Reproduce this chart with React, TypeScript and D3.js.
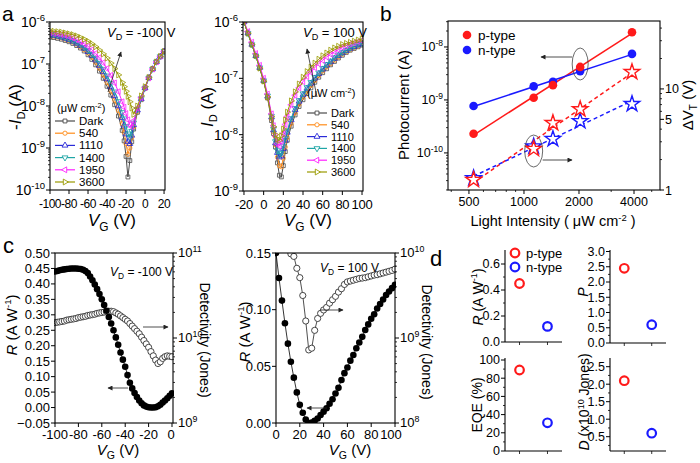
import React from "react";
import * as d3 from "d3";

const FONT = "'Liberation Sans', Arial, Helvetica, sans-serif";

// ---------------- Panel a : transfer curves ----------------
const LEGEND_A = ["Dark", "540", "1110", "1400", "1950", "3600"];
const COLORS_A = ["#4a4a4a", "#ff8c1a", "#2a2ad8", "#1fa6a6", "#ff22ff", "#9a9a00"];
const ROT_A = [0, 0, 0, 180, -90, 90];

// p-type, V_D = -100 V : log10(-I_D)
const VG_P = [-100, -96, -92, -88, -84, -80, -76, -72, -68, -64, -60, -56, -52, -48, -44, -40, -36, -32, -28, -24, -22, -20, -18, -16, -14, -12, -8, -4, 0, 4, 8, 12, 16, 20];
const P_DARK = [-6.36, -6.37, -6.39, -6.41, -6.44, -6.47, -6.51, -6.56, -6.62, -6.69, -6.78, -6.89, -7.02, -7.17, -7.34, -7.53, -7.74, -7.97, -8.24, -8.58, -8.83, -9.2, -9.69, -9.3, -8.85, -8.55, -8.15, -7.85, -7.58, -7.33, -7.12, -6.95, -6.82, -6.7];
const P_540 = [-6.33, -6.34, -6.36, -6.38, -6.41, -6.44, -6.48, -6.53, -6.59, -6.66, -6.74, -6.84, -6.96, -7.1, -7.26, -7.44, -7.64, -7.86, -8.11, -8.42, -8.63, -8.9, -9.15, -9.0, -8.75, -8.5, -8.13, -7.84, -7.58, -7.33, -7.12, -6.95, -6.82, -6.7];
const P_1110 = [-6.31, -6.32, -6.34, -6.36, -6.39, -6.42, -6.46, -6.51, -6.56, -6.63, -6.71, -6.8, -6.91, -7.04, -7.19, -7.36, -7.55, -7.76, -8.0, -8.28, -8.46, -8.67, -8.85, -8.9, -8.7, -8.45, -8.1, -7.83, -7.57, -7.33, -7.12, -6.95, -6.82, -6.7];
const P_1400 = [-6.29, -6.3, -6.32, -6.34, -6.37, -6.4, -6.44, -6.48, -6.53, -6.6, -6.67, -6.76, -6.86, -6.98, -7.12, -7.28, -7.46, -7.66, -7.89, -8.15, -8.3, -8.48, -8.66, -8.74, -8.6, -8.4, -8.08, -7.82, -7.57, -7.33, -7.12, -6.95, -6.82, -6.7];
const P_1950 = [-6.26, -6.27, -6.28, -6.3, -6.32, -6.35, -6.38, -6.42, -6.47, -6.52, -6.58, -6.66, -6.75, -6.85, -6.97, -7.11, -7.27, -7.45, -7.66, -7.9, -8.03, -8.18, -8.33, -8.45, -8.5, -8.35, -8.05, -7.8, -7.56, -7.33, -7.12, -6.95, -6.82, -6.7];
const P_3600 = [-6.21, -6.22, -6.23, -6.24, -6.26, -6.28, -6.3, -6.33, -6.37, -6.41, -6.46, -6.52, -6.59, -6.67, -6.76, -6.86, -6.98, -7.11, -7.26, -7.44, -7.54, -7.65, -7.77, -7.9, -8.05, -8.2, -8.0, -7.76, -7.54, -7.32, -7.12, -6.95, -6.82, -6.7];

// n-type, V_D = 100 V : log10(I_D)
const VG_N = [-20, -16, -12, -8, -4, 0, 4, 8, 10, 12, 14, 16, 18, 20, 22, 24, 28, 32, 36, 40, 44, 48, 52, 56, 60, 64, 68, 72, 76, 80, 84, 88, 92, 96, 100];
const N_DARK = [-6.0, -6.2, -6.4, -6.6, -6.82, -7.05, -7.35, -7.75, -7.98, -8.22, -8.5, -8.72, -8.75, -8.55, -8.3, -8.1, -7.85, -7.65, -7.5, -7.38, -7.27, -7.17, -7.07, -6.98, -6.9, -6.83, -6.76, -6.7, -6.64, -6.59, -6.54, -6.5, -6.47, -6.44, -6.41];
const N_540 = [-6.0, -6.2, -6.4, -6.6, -6.82, -7.05, -7.34, -7.72, -7.95, -8.18, -8.4, -8.55, -8.57, -8.42, -8.22, -8.05, -7.8, -7.61, -7.46, -7.34, -7.23, -7.13, -7.04, -6.95, -6.87, -6.8, -6.74, -6.68, -6.62, -6.57, -6.53, -6.49, -6.46, -6.43, -6.4];
const N_1110 = [-6.0, -6.2, -6.4, -6.6, -6.81, -7.04, -7.32, -7.69, -7.92, -8.15, -8.32, -8.4, -8.38, -8.25, -8.1, -7.96, -7.74, -7.56, -7.41, -7.29, -7.18, -7.09, -7.0, -6.92, -6.84, -6.77, -6.71, -6.65, -6.6, -6.55, -6.51, -6.47, -6.44, -6.41, -6.39];
const N_1400 = [-6.0, -6.2, -6.4, -6.6, -6.81, -7.04, -7.31, -7.67, -7.9, -8.12, -8.28, -8.36, -8.33, -8.2, -8.06, -7.93, -7.71, -7.53, -7.39, -7.27, -7.16, -7.07, -6.98, -6.9, -6.82, -6.75, -6.69, -6.63, -6.58, -6.54, -6.5, -6.46, -6.43, -6.4, -6.38];
const N_1950 = [-5.98, -6.17, -6.36, -6.56, -6.77, -7.0, -7.28, -7.63, -7.84, -8.03, -8.16, -8.2, -8.12, -7.98, -7.82, -7.68, -7.47, -7.3, -7.17, -7.06, -6.97, -6.89, -6.81, -6.74, -6.68, -6.62, -6.57, -6.53, -6.49, -6.45, -6.42, -6.39, -6.37, -6.35, -6.33];
const N_3600 = [-6.0, -6.2, -6.4, -6.6, -6.82, -7.05, -7.33, -7.68, -7.86, -8.0, -8.08, -8.1, -8.02, -7.9, -7.74, -7.6, -7.4, -7.24, -7.1, -6.98, -6.88, -6.8, -6.73, -6.66, -6.6, -6.55, -6.5, -6.46, -6.43, -6.4, -6.38, -6.36, -6.34, -6.32, -6.3];

const A_XTICKS_P = [-100, -80, -60, -40, -20, 0, 20];
const A_XTICKS_N = [-20, 0, 20, 40, 60, 80, 100];

// ---------------- Panel b ----------------
const INTENSITY = [530, 1130, 1440, 2030, 3900];
const PHOTO_P = [2.3e-10, 1.1e-9, 1.9e-9, 4.2e-9, 1.9e-8];
const PHOTO_N = [7.7e-10, 1.8e-9, 2.2e-9, 3.5e-9, 7.4e-9];
const DVT_P = [1.26, 2.55, 4.6, 6.3, 14.7];
const DVT_N = [1.31, 2.7, 3.2, 4.8, 7.1];
const B_XTICKS = [500, 1000, 2000, 4000];
const B_XMINOR = [400, 600, 700, 800, 900, 3000, 5000];
const B_RTICKS = [1, 5, 10];

// ---------------- Panel c ----------------
const VG_C1 = [-100, -98, -96, -94, -92, -90, -88, -86, -84, -82, -80, -78, -76, -74, -72, -70, -68, -66, -64, -62, -60, -58, -56, -54, -52, -50, -48, -46, -44, -42, -40, -38, -36, -34, -32, -30, -28, -26, -24, -22, -20, -18, -16, -14, -12, -10, -8, -6, -4, -2, 0];
const R_C1 = [0.44, 0.442, 0.444, 0.446, 0.447, 0.448, 0.449, 0.45, 0.45, 0.45, 0.449, 0.448, 0.446, 0.442, 0.435, 0.424, 0.412, 0.398, 0.383, 0.367, 0.35, 0.332, 0.313, 0.293, 0.272, 0.25, 0.227, 0.203, 0.178, 0.155, 0.132, 0.105, 0.08, 0.062, 0.047, 0.034, 0.023, 0.014, 0.007, 0.003, 0.001, 0.0, 0.0, 0.001, 0.004, 0.009, 0.016, 0.023, 0.03, 0.038, 0.046];
const LOGD_C1 = [10.18, 10.185, 10.19, 10.195, 10.2, 10.21, 10.215, 10.22, 10.225, 10.23, 10.24, 10.245, 10.25, 10.255, 10.265, 10.27, 10.275, 10.28, 10.29, 10.295, 10.3, 10.305, 10.31, 10.315, 10.315, 10.31, 10.295, 10.28, 10.26, 10.24, 10.22, 10.2, 10.17, 10.14, 10.11, 10.08, 10.05, 10.01, 9.97, 9.93, 9.89, 9.84, 9.79, 9.74, 9.7, 9.72, 9.76, 9.78, 9.79, 9.785, 9.78];

const VG_C2 = [0, 2.5, 5, 7.5, 10, 12.5, 15, 17.5, 20, 22.5, 25, 27.5, 30, 32.5, 35, 37.5, 40, 42.5, 45, 47.5, 50, 52.5, 55, 57.5, 60, 62.5, 65, 67.5, 70, 72.5, 75, 77.5, 80, 82.5, 85, 87.5, 90, 92.5, 95, 97.5, 100];
const R_C2 = [0.15, 0.128, 0.108, 0.088, 0.07, 0.054, 0.04, 0.027, 0.016, 0.009, 0.003, 0.0, 0.0005, 0.002, 0.004, 0.007, 0.01, 0.013, 0.017, 0.021, 0.026, 0.031, 0.038, 0.044, 0.049, 0.055, 0.06, 0.066, 0.071, 0.076, 0.082, 0.087, 0.092, 0.096, 0.101, 0.105, 0.109, 0.113, 0.116, 0.119, 0.122];
const VG_C2D = [12.5, 15, 17.5, 20, 22.5, 25, 27.5, 30, 32.5, 35, 37.5, 40, 42.5, 45, 47.5, 50, 52.5, 55, 57.5, 60, 62.5, 65, 67.5, 70, 72.5, 75, 77.5, 80, 82.5, 85, 87.5, 90, 92.5, 95, 97.5, 100];
const LOGD_C2 = [9.99, 9.96, 9.82, 9.71, 9.5, 9.2, 8.86, 8.88, 9.09, 9.23, 9.29, 9.33, 9.36, 9.41, 9.45, 9.49, 9.54, 9.58, 9.63, 9.66, 9.67, 9.68, 9.69, 9.7, 9.705, 9.71, 9.72, 9.73, 9.74, 9.745, 9.755, 9.765, 9.775, 9.785, 9.795, 9.81];

// ---------------- Panel d ----------------
const TYPES = ["p-type", "n-type"];
const TYPE_COLORS = ["#ff1a1a", "#1a1aff"];
const D_R = [0.45, 0.12];
const D_P = [2.45, 0.6];
const D_EQE = [89, 31];
const D_DET = [2.1, 0.6];

// ---------------- helpers ----------------
function logMinors(lo: number, hi: number) {
  const out: number[] = [];
  const e0 = Math.floor(Math.log10(lo));
  const e1 = Math.ceil(Math.log10(hi));
  for (let e = e0; e <= e1; e++)
    for (let m = 2; m <= 9; m++) {
      const v = m * Math.pow(10, e);
      if (v > lo * 1.0001 && v < hi * 0.9999) out.push(v);
    }
  return out;
}

function Pow10({ x, y, e, anchor = "end", fs = 14 }: any) {
  return (
    <text x={x} y={y} textAnchor={anchor} fontSize={fs}>
      10
      <tspan dy={-fs * 0.42} fontSize={fs * 0.68}>
        {e}
      </tspan>
    </text>
  );
}

function VD({ x, y, val, fs = 13 }: any) {
  return (
    <text x={x} y={y} fontSize={fs}>
      <tspan fontStyle="italic">V</tspan>
      <tspan fontSize={fs * 0.7} dy={fs * 0.25}>D</tspan>
      <tspan dy={-fs * 0.25}>{` = ${val} V`}</tspan>
    </text>
  );
}

function VGTitle({ x, y, fs = 15 }: any) {
  return (
    <text x={x} y={y} fontSize={fs} textAnchor="middle">
      <tspan fontStyle="italic">V</tspan>
      <tspan fontSize={fs * 0.7} dy={fs * 0.28}>G</tspan>
      <tspan dy={-fs * 0.28}> (V)</tspan>
    </text>
  );
}

function RotText({ x, y, rot = -90, fs = 15, children }: any) {
  return (
    <text transform={`translate(${x},${y}) rotate(${rot})`} textAnchor="middle" dy="0.35em" fontSize={fs}>
      {children}
    </text>
  );
}

function RLabel({ fs }: any) {
  return (
    <>
      <tspan fontStyle="italic">R</tspan>
      <tspan> (A W</tspan>
      <tspan fontSize={fs * 0.65} dy={-fs * 0.4}>-1</tspan>
      <tspan dy={fs * 0.4}>)</tspan>
    </>
  );
}

const symGen = (k: number) => {
  const types = [d3.symbolSquare, d3.symbolCircle, d3.symbolTriangle, d3.symbolTriangle, d3.symbolTriangle, d3.symbolTriangle];
  const sizes = [15, 14, 15, 15, 15, 15];
  return d3.symbol().type(types[k]).size(sizes[k])() as string;
};

// ---------------- Panel a component ----------------
function TransferPanel({ cid, vg, series, box, xDom, yExp, xTicks, xTickFs, xTickLs, legend, arrow }: any) {
  const x = d3.scaleLinear().domain(xDom).range([box.x0, box.x1]);
  const y = d3.scaleLog().domain([Math.pow(10, yExp[0]), Math.pow(10, yExp[1])]).range([box.y1, box.y0]);
  const line = d3
    .line<[number, number]>()
    .x((d) => x(d[0]))
    .y((d) => y(Math.pow(10, d[1])));
  const exps = d3.range(yExp[0], yExp[1] + 1);
  const minors = logMinors(Math.pow(10, yExp[0]), Math.pow(10, yExp[1]));
  return (
    <g>
      <clipPath id={cid}>
        <rect x={box.x0} y={box.y0} width={box.x1 - box.x0} height={box.y1 - box.y0} />
      </clipPath>
      <g clipPath={`url(#${cid})`}>
        {series.map((s: number[], k: number) => {
          const pts: [number, number][] = vg.map((v: number, i: number) => [v, s[i]]);
          const sp = symGen(k);
          return (
            <g key={k}>
              <path d={line(pts) as string} fill="none" stroke={COLORS_A[k]} strokeWidth={1} />
              {pts.map((p, i) => (
                <path
                  key={i}
                  d={sp}
                  transform={`translate(${x(p[0])},${y(Math.pow(10, p[1]))}) rotate(${ROT_A[k]})`}
                  fill="none"
                  stroke={COLORS_A[k]}
                  strokeWidth={0.8}
                />
              ))}
            </g>
          );
        })}
      </g>
      <rect x={box.x0} y={box.y0} width={box.x1 - box.x0} height={box.y1 - box.y0} fill="none" stroke="#000" strokeWidth={1.1} />
      {exps.map((e: number) => (
        <g key={e}>
          <line x1={box.x0 - 4} x2={box.x0} y1={y(Math.pow(10, e))} y2={y(Math.pow(10, e))} stroke="#000" />
          <Pow10 x={box.x0 - 5} y={y(Math.pow(10, e)) + 5} e={e} fs={14} />
        </g>
      ))}
      {minors.map((v: number, i: number) => (
        <line key={i} x1={box.x0 - 2} x2={box.x0} y1={y(v)} y2={y(v)} stroke="#000" strokeWidth={0.8} />
      ))}
      {xTicks.map((t: number) => (
        <g key={t}>
          <line x1={x(t)} x2={x(t)} y1={box.y1} y2={box.y1 + 4} stroke="#000" />
          <text x={x(t)} y={box.y1 + 18} textAnchor="middle" fontSize={xTickFs} letterSpacing={xTickLs}>
            {t}
          </text>
        </g>
      ))}
      {/* legend */}
      <text x={legend.hx} y={legend.hy} fontSize={11}>
        (μW cm<tspan fontSize={7.5} dy={-4}>-2</tspan>
        <tspan dy={4}>)</tspan>
      </text>
      {LEGEND_A.map((lab, k) => {
        const ly = legend.y0 + k * legend.dy;
        return (
          <g key={lab}>
            <line x1={legend.x} x2={legend.x + 20} y1={ly} y2={ly} stroke={COLORS_A[k]} strokeWidth={1.2} />
            <path d={symGen(k)} transform={`translate(${legend.x + 10},${ly}) rotate(${ROT_A[k]})`} fill="#fff" stroke={COLORS_A[k]} strokeWidth={0.9} />
            <text x={legend.x + 24} y={ly + 4} fontSize={legend.fs}>
              {lab}
            </text>
          </g>
        );
      })}
      <line x1={arrow[0]} y1={arrow[1]} x2={arrow[2]} y2={arrow[3]} stroke="#222" strokeWidth={0.8} markerEnd="url(#ah)" />
    </g>
  );
}

// ---------------- Panel b ----------------
function fitLog(xs: number[], ys: number[]) {
  const lx = xs.map((v) => Math.log10(v));
  const ly = ys.map((v) => Math.log10(v));
  const mx = d3.mean(lx) as number;
  const my = d3.mean(ly) as number;
  const b = (d3.sum(lx.map((v, i) => (v - mx) * (ly[i] - my))) as number) / (d3.sum(lx.map((v) => (v - mx) * (v - mx))) as number);
  const a = my - b * mx;
  return (v: number) => Math.pow(10, a + b * Math.log10(v));
}

function PanelB() {
  const box = { x0: 448, x1: 660, y0: 21, y1: 190 };
  const x = d3.scaleLog().domain([384, 5550]).range([box.x0, box.x1]);
  const yL = d3.scaleLog().domain([Math.pow(10, -10.7), Math.pow(10, -7.51)]).range([box.y1, box.y0]);
  const yR = d3.scaleLog().domain([1, 47]).range([box.y1, box.y0]);
  const ends = [INTENSITY[0], INTENSITY[INTENSITY.length - 1]];
  const fP = fitLog(INTENSITY, PHOTO_P);
  const fN = fitLog(INTENSITY, PHOTO_N);
  const gP = fitLog(INTENSITY, DVT_P);
  const gN = fitLog(INTENSITY, DVT_N);
  const lineL = d3.line<number>().x((v) => x(v));
  const star = d3.symbol().type(d3.symbolStar).size(75)() as string;
  const dot = (cx: number, cy: number, c: string, key: any) => <circle key={key} cx={cx} cy={cy} r={4.3} fill={c} />;
  const yMinL = logMinors(Math.pow(10, -10.7), Math.pow(10, -7.51));
  const yMinR = logMinors(1, 47).filter((v) => v !== 5);
  return (
    <g>
      <text x={380} y={21} fontSize={21}>b</text>
      <rect x={box.x0} y={box.y0} width={box.x1 - box.x0} height={box.y1 - box.y0} fill="none" stroke="#000" strokeWidth={1.1} />
      {/* fit lines */}
      <path d={lineL.y((v) => yL(fP(v)))(ends) as string} stroke="#ff1a1a" strokeWidth={1.5} fill="none" />
      <path d={lineL.y((v) => yL(fN(v)))(ends) as string} stroke="#1a1aff" strokeWidth={1.5} fill="none" />
      <path d={lineL.y((v) => yR(gP(v)))(ends) as string} stroke="#ff1a1a" strokeWidth={1.5} strokeDasharray="4,3" fill="none" />
      <path d={lineL.y((v) => yR(gN(v)))(ends) as string} stroke="#1a1aff" strokeWidth={1.5} strokeDasharray="4,3" fill="none" />
      {INTENSITY.map((v, i) => (
        <path key={"sn" + i} d={star} transform={`translate(${x(v)},${yR(DVT_N[i])})`} fill="#fff" stroke="#1a1aff" strokeWidth={1.4} />
      ))}
      {INTENSITY.map((v, i) => (
        <path key={"sp" + i} d={star} transform={`translate(${x(v)},${yR(DVT_P[i])})`} fill="#fff" stroke="#ff1a1a" strokeWidth={1.4} />
      ))}
      {INTENSITY.map((v, i) => dot(x(v), yL(PHOTO_N[i]), "#1a1aff", "dn" + i))}
      {INTENSITY.map((v, i) => dot(x(v), yL(PHOTO_P[i]), "#ff1a1a", "dp" + i))}
      {/* ellipses + arrows */}
      <ellipse cx={x(INTENSITY[3])} cy={64} rx={8} ry={16} fill="none" stroke="#444" strokeWidth={0.8} />
      <line x1={x(INTENSITY[3]) - 8} y1={57} x2={541} y2={57} stroke="#222" strokeWidth={0.8} markerEnd="url(#ah)" />
      <ellipse cx={x(INTENSITY[1])} cy={151} rx={9} ry={16} fill="none" stroke="#444" strokeWidth={0.8} />
      <line x1={x(INTENSITY[1]) + 9} y1={160} x2={572} y2={160} stroke="#222" strokeWidth={0.8} markerEnd="url(#ah)" />
      {/* legend */}
      <circle cx={467} cy={35} r={4.3} fill="#ff1a1a" />
      <text x={478} y={39.5} fontSize={13.5}>p-type</text>
      <circle cx={467} cy={50} r={4.3} fill="#1a1aff" />
      <text x={478} y={54.5} fontSize={13.5}>n-type</text>
      {/* left axis */}
      {[-10, -9, -8].map((e) => (
        <g key={e}>
          <line x1={box.x0 - 4} x2={box.x0} y1={yL(Math.pow(10, e))} y2={yL(Math.pow(10, e))} stroke="#000" />
          <Pow10 x={box.x0 - 5} y={yL(Math.pow(10, e)) + 4.5} e={e} fs={12.5} />
        </g>
      ))}
      {yMinL.map((v, i) => (
        <line key={i} x1={box.x0 - 2} x2={box.x0} y1={yL(v)} y2={yL(v)} stroke="#000" strokeWidth={0.8} />
      ))}
      {/* right axis */}
      {B_RTICKS.map((t) => (
        <g key={t}>
          <line x1={box.x1} x2={box.x1 + 4} y1={yR(t)} y2={yR(t)} stroke="#000" />
          <text x={box.x1 + 5} y={yR(t) + 4.5} fontSize={12.5}>{t}</text>
        </g>
      ))}
      {yMinR.map((v, i) => (
        <line key={i} x1={box.x1} x2={box.x1 + 2} y1={yR(v)} y2={yR(v)} stroke="#000" strokeWidth={0.8} />
      ))}
      {/* bottom axis */}
      {B_XTICKS.map((t) => (
        <g key={t}>
          <line x1={x(t)} x2={x(t)} y1={box.y1} y2={box.y1 + 4} stroke="#000" />
          <text x={x(t)} y={box.y1 + 16} textAnchor="middle" fontSize={12.5}>{t}</text>
        </g>
      ))}
      {B_XMINOR.map((t) => (
        <line key={t} x1={x(t)} x2={x(t)} y1={box.y1} y2={box.y1 + 2} stroke="#000" strokeWidth={0.8} />
      ))}
      <text x={553} y={226} textAnchor="middle" fontSize={14.5}>
        Light Intensity ( μW cm<tspan fontSize={9.5} dy={-5}>-2</tspan>
        <tspan dy={5}> )</tspan>
      </text>
      <RotText x={404} y={105} fs={15}>Photocurrent (A)</RotText>
      <RotText x={688} y={105} fs={15}>
        ΔV<tspan fontSize={10} dy={4}>T</tspan>
        <tspan dy={-4}> (V)</tspan>
      </RotText>
    </g>
  );
}

// ---------------- Panel c ----------------
function RespPanel({ cid, box, xDom, yDom, yTicks, dExp, vgR, rVals, vgD, dVals, xTicks, lastShift, vdVal, vd, arrowR, arrowL, titleX }: any) {
  const x = d3.scaleLinear().domain(xDom).range([box.x0, box.x1]);
  const yL = d3.scaleLinear().domain(yDom).range([box.y1, box.y0]);
  const yR = d3.scaleLog().domain([Math.pow(10, dExp[0]), Math.pow(10, dExp[1])]).range([box.y1, box.y0]);
  const rPts = vgR.map((v: number, i: number) => [x(v), yL(rVals[i])]);
  const dPts = vgD.map((v: number, i: number) => [x(v), yR(Math.pow(10, dVals[i]))]);
  const ln = d3.line();
  const fmt = d3.format(".2f");
  const rMinor = logMinors(Math.pow(10, dExp[0]), Math.pow(10, dExp[1]));
  return (
    <g>
      <clipPath id={cid}>
        <rect x={box.x0 - 1} y={box.y0} width={box.x1 - box.x0 + 2} height={box.y1 - box.y0} />
      </clipPath>
      <g clipPath={`url(#${cid})`}>
        <path d={ln(rPts) as string} fill="none" stroke="#000" strokeWidth={0.8} />
        <path d={ln(dPts) as string} fill="none" stroke="#222" strokeWidth={0.8} />
        {dPts.map((p: number[], i: number) => (
          <circle key={"d" + i} cx={p[0]} cy={p[1]} r={3.1} fill="#fff" stroke="#333" strokeWidth={0.9} />
        ))}
        {rPts.map((p: number[], i: number) => (
          <circle key={"r" + i} cx={p[0]} cy={p[1]} r={3.3} fill="#000" />
        ))}
      </g>
      <rect x={box.x0} y={box.y0} width={box.x1 - box.x0} height={box.y1 - box.y0} fill="none" stroke="#000" strokeWidth={1.1} />
      {yTicks.map((t: number) => (
        <g key={t}>
          <line x1={box.x0 - 4} x2={box.x0} y1={yL(t)} y2={yL(t)} stroke="#000" />
          <text x={box.x0 - 5} y={yL(t) + 4.5} textAnchor="end" fontSize={13}>{fmt(t)}</text>
        </g>
      ))}
      {d3.range(dExp[0], dExp[1] + 1).map((e: number) => (
        <g key={e}>
          <line x1={box.x1} x2={box.x1 + 4} y1={yR(Math.pow(10, e))} y2={yR(Math.pow(10, e))} stroke="#000" />
          <Pow10 x={box.x1 + 5} y={yR(Math.pow(10, e)) + 4} e={e} fs={13} anchor="start" />
        </g>
      ))}
      {rMinor.map((v: number, i: number) => (
        <line key={i} x1={box.x1} x2={box.x1 + 2} y1={yR(v)} y2={yR(v)} stroke="#000" strokeWidth={0.8} />
      ))}
      {xTicks.map((t: number, i: number) => (
        <g key={t}>
          <line x1={x(t)} x2={x(t)} y1={box.y1} y2={box.y1 + 4} stroke="#000" />
          <text x={x(t) - (i === xTicks.length - 1 ? lastShift : 0)} y={box.y1 + 16} textAnchor="middle" fontSize={13}>{t}</text>
        </g>
      ))}
      <VD x={vd[0]} y={vd[1]} val={vdVal} fs={12} />
      <line x1={arrowR[0]} y1={arrowR[1]} x2={arrowR[2]} y2={arrowR[1]} stroke="#222" strokeWidth={0.8} markerEnd="url(#ah)" />
      <line x1={arrowL[0]} y1={arrowL[1]} x2={arrowL[2]} y2={arrowL[1]} stroke="#222" strokeWidth={0.8} markerEnd="url(#ah)" />
      <VGTitle x={titleX} y={455} fs={15} />
    </g>
  );
}

// ---------------- Panel d ----------------
function DotPlot({ ax, xEnd, yB, yTop, dom, rng, ticks, minors, fmt, vals }: any) {
  const y = d3.scaleLinear().domain(dom).range(rng);
  const xc = d3.scalePoint().domain(TYPES).range([ax, xEnd]).padding(0.52);
  return (
    <g>
      <line x1={ax} x2={ax} y1={yTop} y2={yB} stroke="#000" strokeWidth={1.1} />
      <line x1={ax} x2={xEnd} y1={yB} y2={yB} stroke="#000" strokeWidth={1.1} />
      {ticks.map((t: number) => (
        <g key={t}>
          <line x1={ax - 4} x2={ax} y1={y(t)} y2={y(t)} stroke="#000" />
          <text x={ax - 5} y={y(t) + 4.3} textAnchor="end" fontSize={12.5}>{fmt(t)}</text>
        </g>
      ))}
      {minors.map((t: number) => (
        <line key={t} x1={ax - 2} x2={ax} y1={y(t)} y2={y(t)} stroke="#000" strokeWidth={0.8} />
      ))}
      {TYPES.map((c) => (
        <line key={c} x1={xc(c)} x2={xc(c)} y1={yB} y2={yB + 3} stroke="#000" strokeWidth={0.8} />
      ))}
      {TYPES.map((c, i) => (
        <circle key={"c" + c} cx={xc(c)} cy={y(vals[i])} r={4.3} fill="none" stroke={TYPE_COLORS[i]} strokeWidth={2.2} />
      ))}
    </g>
  );
}

function PanelD() {
  const f1 = d3.format(".1f");
  const f0 = d3.format("d");
  return (
    <g>
      <text x={430} y={266} fontSize={22}>d</text>
      <DotPlot ax={505} xEnd={562} yB={342} yTop={250} dom={[0, 0.7]} rng={[342, 251]} ticks={[0, 0.2, 0.4, 0.6]} minors={[0.1, 0.3, 0.5]} fmt={f1} vals={D_R} />
      <DotPlot ax={610} xEnd={666} yB={343} yTop={250} dom={[0, 3]} rng={[343, 251.5]} ticks={[0, 0.5, 1, 1.5, 2, 2.5, 3]} minors={[0.25, 0.75, 1.25, 1.75, 2.25, 2.75]} fmt={f1} vals={D_P} />
      <DotPlot ax={505} xEnd={562} yB={451} yTop={358} dom={[0, 100]} rng={[451, 360]} ticks={[0, 20, 40, 60, 80, 100]} minors={[10, 30, 50, 70, 90]} fmt={f0} vals={D_EQE} />
      <DotPlot ax={610} xEnd={666} yB={451} yTop={358} dom={[0.5, 2.5]} rng={[436.7, 366.7]} ticks={[0.5, 1, 1.5, 2, 2.5]} minors={[0.25, 0.75, 1.25, 1.75, 2.25]} fmt={f1} vals={D_DET} />
      {TYPES.map((t, i) => (
        <g key={t}>
          <circle cx={515} cy={253 + i * 14} r={4.3} fill="none" stroke={TYPE_COLORS[i]} strokeWidth={2.2} />
          <text x={526} y={257.5 + i * 14} fontSize={13}>{t}</text>
        </g>
      ))}
      <RotText x={478} y={297} fs={14}>
        <RLabel fs={14} />
      </RotText>
      <RotText x={583} y={292} fs={14}>
        <tspan fontStyle="italic">P</tspan>
      </RotText>
      <RotText x={477} y={405} fs={14}>EQE (%)</RotText>
      <RotText x={584} y={402} fs={14}>
        <tspan fontStyle="italic">D</tspan>
        <tspan> (x10</tspan>
        <tspan fontSize={9} dy={-5}>10</tspan>
        <tspan dy={5}> Jones)</tspan>
      </RotText>
    </g>
  );
}

export default function App() {
  const boxA1 = { x0: 50, x1: 165, y0: 22, y1: 190 };
  const boxA2 = { x0: 243, x1: 363, y0: 22, y1: 191 };
  return (
    <svg
      width={700}
      height={463}
      viewBox="0 0 700 463"
      style={{ position: "absolute", left: 0, top: 0, background: "#fff" }}
      fontFamily={FONT}
    >
      <defs>
        <marker id="ah" viewBox="0 0 10 10" refX="9" refY="5" markerWidth="7" markerHeight="5" markerUnits="userSpaceOnUse" orient="auto">
          <path d="M0,0 L10,5 L0,10 z" fill="#222" />
        </marker>
      </defs>
      <rect width={700} height={463} fill="#fff" />

      {/* Panel a */}
      <text x={2} y={21} fontSize={21}>a</text>
      <TransferPanel
        cid="clipA1"
        vg={VG_P}
        series={[P_DARK, P_540, P_1110, P_1400, P_1950, P_3600]}
        box={boxA1}
        xDom={[-100, 21]}
        yExp={[-10, -6]}
        xTicks={A_XTICKS_P}
        xTickFs={12}
        xTickLs={-0.5}
        legend={{ hx: 57, hy: 112, x: 55, y0: 121, dy: 12.2, fs: 11.5 }}
        arrow={[108, 92, 121, 52]}
      />
      <VD x={107} y={37} val="-100" fs={13} />
      <RotText x={15} y={107} fs={17}>
        -<tspan fontStyle="italic">I</tspan>
        <tspan fontSize={11} dy={4}>D</tspan>
        <tspan dy={-4}> (A)</tspan>
      </RotText>
      <VGTitle x={112} y={226} fs={17} />

      <TransferPanel
        cid="clipA2"
        vg={VG_N}
        series={[N_DARK, N_540, N_1110, N_1400, N_1950, N_3600]}
        box={boxA2}
        xDom={[-21, 101]}
        yExp={[-9, -6]}
        xTicks={A_XTICKS_N}
        xTickFs={13}
        xTickLs={-0.3}
        legend={{ hx: 307, hy: 97, x: 307, y0: 113, dy: 11.8, fs: 11 }}
        arrow={[317, 97, 307, 49]}
      />
      <VD x={303} y={37} val="100" fs={13} />
      <RotText x={207} y={107} fs={17}>
        <tspan fontStyle="italic">I</tspan>
        <tspan fontSize={11} dy={4}>D</tspan>
        <tspan dy={-4}> (A)</tspan>
      </RotText>
      <VGTitle x={308} y={226} fs={17} />

      <PanelB />

      {/* Panel c */}
      <text x={3} y={253} fontSize={22}>c</text>
      <RespPanel
        cid="clipC1"
        box={{ x0: 55, x1: 173, y0: 253, y1: 423 }}
        xDom={[-100, 0.85]}
        yDom={[-0.05, 0.5]}
        yTicks={[-0.05, 0, 0.05, 0.1, 0.15, 0.2, 0.25, 0.3, 0.35, 0.4, 0.45, 0.5]}
        dExp={[9, 11]}
        vgR={VG_C1}
        rVals={R_C1}
        vgD={VG_C1}
        dVals={LOGD_C1}
        xTicks={[-100, -80, -60, -40, -20, 0]}
        lastShift={1}
        vdVal="-100"
        vd={[110, 276]}
        arrowR={[143, 327, 168]}
        arrowL={[128, 388, 108]}
        titleX={118}
      />
      <RotText x={12} y={325} fs={15}>
        <RLabel fs={15} />
      </RotText>
      <RotText x={205} y={340} rot={90} fs={14}>Detectivity (Jones)</RotText>

      <RespPanel
        cid="clipC2"
        box={{ x0: 276, x1: 395, y0: 253, y1: 423 }}
        xDom={[0, 100]}
        yDom={[0, 0.15]}
        yTicks={[0, 0.05, 0.1, 0.15]}
        dExp={[8, 10]}
        vgR={VG_C2}
        rVals={R_C2}
        vgD={VG_C2D}
        dVals={LOGD_C2}
        xTicks={[0, 20, 40, 60, 80, 100]}
        lastShift={4}
        vdVal="100"
        vd={[320, 272]}
        arrowR={[320, 310, 343]}
        arrowL={[327, 408, 307]}
        titleX={350}
      />
      <RotText x={245} y={332} fs={15}>
        <RLabel fs={15} />
      </RotText>
      <RotText x={427} y={342} rot={90} fs={14}>Detectivity (Jones)</RotText>

      <PanelD />
    </svg>
  );
}
